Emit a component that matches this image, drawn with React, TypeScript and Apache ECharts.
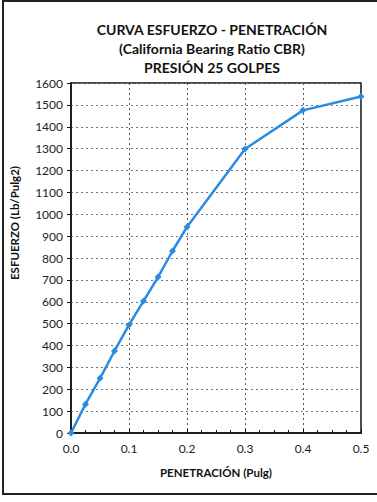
import React, { useEffect, useRef } from "react";
import * as echarts from "echarts";

const penetracion = [0, 0.025, 0.05, 0.075, 0.1, 0.125, 0.15, 0.175, 0.2, 0.3, 0.4, 0.5];
const esfuerzo = [0, 132, 250, 375, 494, 603, 713, 832, 942, 1298, 1475, 1538];
const titleLines = ["CURVA ESFUERZO - PENETRACIÓN", "(California Bearing Ratio CBR)", "PRESIÓN 25 GOLPES"];
const xName = "PENETRACIÓN (Pulg)";
const yName = "ESFUERZO (Lb/Pulg2)";

const FONT = "Lato, 'Open Sans', sans-serif";

export default function App() {
  const ref = useRef<HTMLDivElement>(null);
  useEffect(() => {
    document.body.style.margin = "0";
    const chart = echarts.init(ref.current!, null, { renderer: "svg" });
    const data = penetracion.map((x, i) => [x, esfuerzo[i]]);
    chart.setOption({
      animation: false,
      backgroundColor: "#ffffff",
      title: {
        text: titleLines.join("\n"),
        left: 207,
        textAlign: "center",
        top: 15,
        textStyle: { fontFamily: FONT, fontSize: 14, fontWeight: "bold", color: "#111", lineHeight: 19 },
      },
      grid: { left: 70, right: 16, top: 83, bottom: 69, show: true, borderColor: "#111", borderWidth: 1.5, backgroundColor: "transparent" },
      xAxis: {
        type: "value",
        min: 0,
        max: 0.5,
        interval: 0.1,
        axisLine: { show: true, onZero: false, lineStyle: { color: "#111", width: 1.5 } },
        axisTick: { show: true, inside: true, length: 4, lineStyle: { color: "#111" } },
        minorTick: { show: true, splitNumber: 4, length: 3, lineStyle: { color: "#111" } },
        axisLabel: { formatter: (v: number) => v.toFixed(1), fontFamily: FONT, fontSize: 12, color: "#222", margin: 9 },
        splitLine: { show: true, lineStyle: { color: "#555", type: [2, 3], width: 1 } },
        name: xName,
        nameLocation: "middle",
        nameGap: 33,
        nameTextStyle: { fontFamily: FONT, fontSize: 11.5, fontWeight: "bold", color: "#111" },
      },
      yAxis: {
        type: "value",
        min: 0,
        max: 1600,
        interval: 100,
        axisLine: { show: true, onZero: false, lineStyle: { color: "#111", width: 1.5 } },
        axisTick: { show: true, length: 4, lineStyle: { color: "#111" } },
        axisLabel: { formatter: (v: number) => String(v), fontFamily: FONT, fontSize: 12, color: "#222", margin: 8 },
        splitLine: { show: true, lineStyle: { color: "#777", type: [2, 3], width: 1 } },
        name: yName,
        nameLocation: "middle",
        nameGap: 51,
        nameTextStyle: { fontFamily: FONT, fontSize: 11.5, fontWeight: "bold", color: "#111", padding: [0, 0, 0, 70] },
      },
      series: [
        {
          type: "line",
          data,
          symbol: "diamond",
          symbolSize: 7,
          itemStyle: { color: "#2b8be0" },
          lineStyle: { color: "#2b8be0", width: 2.5 },
        },
      ],
      graphic: [
        {
          type: "rect",
          shape: { x: 3, y: 1, width: 380, height: 493 },
          style: { fill: "none", stroke: "#222", lineWidth: 2 },
          silent: true,
        },
      ],
    });
    return () => chart.dispose();
  }, []);
  return <div ref={ref} style={{ width: 377, height: 502, position: "absolute", left: 0, top: 0 }} />;
}
